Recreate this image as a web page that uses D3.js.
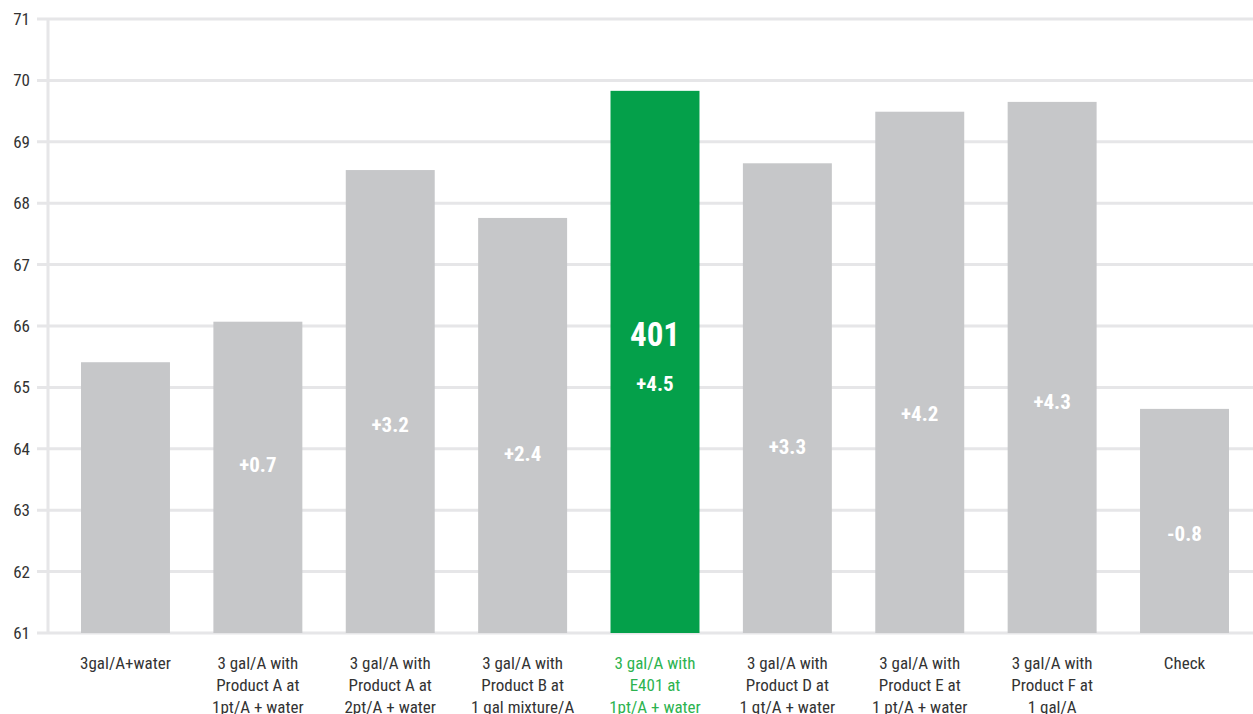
<!DOCTYPE html>
<html>
<head>
<meta charset="utf-8">
<script src="https://cdn.jsdelivr.net/npm/d3@7"></script>
<style>
  body { margin: 0; background: #fff; }
  text { font-family: "Liberation Sans Narrow", "Roboto Condensed", "Roboto", sans-serif; }
</style>
</head>
<body>
<div id="chart"></div>
<script>
// Chart data
var categories = [
  ["3gal/A+water"],
  ["3 gal/A with", "Product A at", "1pt/A + water"],
  ["3 gal/A with", "Product A at", "2pt/A + water"],
  ["3 gal/A with", "Product B at", "1 gal mixture/A"],
  ["3 gal/A with", "E401 at", "1pt/A + water"],
  ["3 gal/A with", "Product D at", "1 qt/A + water"],
  ["3 gal/A with", "Product E at", "1 pt/A + water"],
  ["3 gal/A with", "Product F at", "1 gal/A"],
  ["Check"]
];
var yields = [65.41, 66.07, 68.54, 67.76, 69.83, 68.65, 69.49, 69.65, 64.65];
var diffLabels = ["", "+0.7", "+3.2", "+2.4", "+4.5", "+3.3", "+4.2", "+4.3", "-0.8"];
// where the difference label sits (in axis units)
var diffAt = [null, 63.75, 64.39, 63.92, 65.06, 64.03, 64.58, 64.76, 62.61];
var highlight = 4;
var yTicks = [61, 62, 63, 64, 65, 66, 67, 68, 69, 70, 71];

var svgWidth = 1253;
var svgHeight = 714;

var svg = d3.select("#chart")
  .append("svg")
  .attr("width", svgWidth)
  .attr("height", svgHeight);

// scales
var xScale = d3.scaleBand()
  .domain(d3.range(categories.length))
  .range([59.3, 1250.7])
  .paddingInner(0.328)
  .paddingOuter(0.164);

var yScale = d3.scaleLinear()
  .domain([61, 71])
  .range([633, 19]);

// grid lines
svg.append("g")
  .selectAll("line")
  .data(yTicks)
  .enter()
  .append("line")
  .attr("x1", 37)
  .attr("x2", svgWidth)
  .attr("y1", d => yScale(d))
  .attr("y2", d => yScale(d))
  .attr("stroke", "#e6e6e8")
  .attr("stroke-width", 3);

// vertical axis line
svg.append("line")
  .attr("x1", 48)
  .attr("x2", 48)
  .attr("y1", yScale(71))
  .attr("y2", yScale(61))
  .attr("stroke", "#e6e6e8")
  .attr("stroke-width", 3);

// y axis labels
var leftAxis = d3.axisLeft(yScale)
  .tickValues(yTicks)
  .tickSize(0)
  .tickPadding(0)
  .tickFormat(d3.format("d"));

var yAxis = svg.append("g")
  .attr("transform", "translate(30,0)")
  .call(leftAxis);
yAxis.select(".domain").remove();
yAxis.selectAll("text")
  .attr("font-size", 17)
  .attr("fill", "#333")
  .attr("font-family", null);

// bars
svg.append("g")
  .selectAll("rect")
  .data(yields)
  .enter()
  .append("rect")
  .attr("x", (d, i) => xScale(i))
  .attr("y", d => yScale(d))
  .attr("width", xScale.bandwidth())
  .attr("height", d => yScale(61) - yScale(d))
  .attr("fill", (d, i) => i === highlight ? "#04a04a" : "#c6c7c9");

// difference labels inside bars
svg.append("g")
  .selectAll("text")
  .data(diffLabels)
  .enter()
  .filter(d => d !== "")
  .append("text")
  .attr("x", (d, i) => xScale(diffLabels.indexOf(d)) + xScale.bandwidth() / 2)
  .attr("y", d => yScale(diffAt[diffLabels.indexOf(d)]))
  .attr("dy", "0.35em")
  .attr("text-anchor", "middle")
  .attr("font-size", 21)
  .attr("font-weight", "bold")
  .attr("fill", "#fff")
  .text(d => d);

// product name in the highlighted bar
svg.append("text")
  .attr("x", xScale(highlight) + xScale.bandwidth() / 2)
  .attr("y", yScale(65.87))
  .attr("dy", "0.35em")
  .attr("text-anchor", "middle")
  .attr("font-size", 33)
  .attr("font-weight", "bold")
  .attr("fill", "#fff")
  .text("401");

// category labels
var catGroup = svg.append("g");
categories.forEach((lines, i) => {
  var t = catGroup.append("text")
    .attr("x", xScale(i) + xScale.bandwidth() / 2)
    .attr("y", 663)
    .attr("text-anchor", "middle")
    .attr("font-size", 17)
    .attr("fill", i === highlight ? "#2db34f" : "#333");
  lines.forEach((line, j) => {
    t.append("tspan")
      .attr("x", xScale(i) + xScale.bandwidth() / 2)
      .attr("dy", j === 0 ? "0.35em" : 22)
      .text(line);
  });
});
</script>
</body>
</html>
